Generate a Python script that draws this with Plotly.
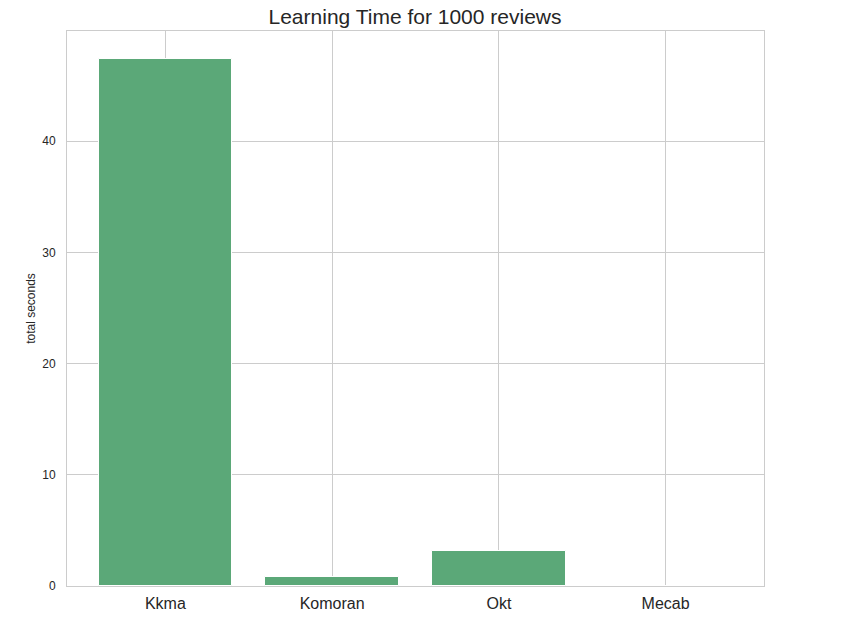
import plotly.graph_objects as go

categories = ["Kkma", "Komoran", "Okt", "Mecab"]
seconds = [47.37, 0.84, 3.17, 0.03]

fig = go.Figure()
fig.add_trace(go.Bar(
    x=list(range(len(categories))), y=seconds, width=0.8,
    marker=dict(color="#5ba878", line=dict(color="white", width=1)),
))
fig.update_layout(
    width=864, height=627,
    margin=dict(l=67, r=100, t=31, b=41),
    paper_bgcolor="white", plot_bgcolor="white",
    font=dict(family="Liberation Sans, Arial, sans-serif", color="#262626"),
    title=dict(text="Learning Time for 1000 reviews", x=415 / 864, xanchor="center",
               y=1 - 17 / 627, yanchor="middle",
               font=dict(size=21, color="#262626")),
    showlegend=False, bargap=0,
)
fig.update_xaxes(
    tickmode="array", tickvals=list(range(len(categories))), ticktext=categories,
    range=[-0.59, 3.59], showgrid=True, gridcolor="#cccccc", gridwidth=1,
    showline=True, linecolor="#cccccc", mirror=True, ticks="", zeroline=False,
    tickfont=dict(size=16, color="#262626"), ticklabelstandoff=3,
)
fig.update_yaxes(
    range=[0, 49.9], tickvals=[0, 10, 20, 30, 40], showgrid=True, gridcolor="#cccccc",
    gridwidth=1, showline=True, linecolor="#cccccc", mirror=True, ticks="", zeroline=False,
    tickfont=dict(size=12, color="#262626"), ticklabelstandoff=8,
    title=dict(text="total seconds", font=dict(size=12, color="#262626"), standoff=4),
)
fig.write_html("out.html", config={"displayModeBar": False},
               post_script="document.body.style.margin='0';")
